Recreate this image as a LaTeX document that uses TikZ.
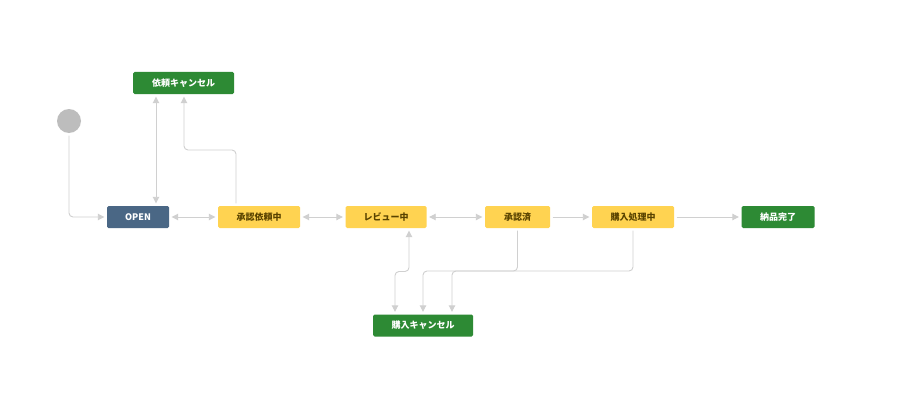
\documentclass[tikz,border=0pt]{standalone}
\usepackage{fontspec}
\newfontfamily\jp{Noto Sans CJK JP}
\usetikzlibrary{arrows.meta}
\definecolor{greenc}{HTML}{2D8A34}
\definecolor{bluec}{HTML}{4A6785}
\definecolor{yellowc}{HTML}{FFD351}
\definecolor{ytext}{HTML}{594300}
\definecolor{linec}{HTML}{D0D0D0}
\definecolor{circc}{HTML}{BDBDBD}
\tikzset{
  box/.style={rectangle, rounded corners=1.5pt, minimum height=22pt, inner sep=0pt,
    font=\jp\bfseries\fontsize{9}{11}\selectfont},
  greenbox/.style={box, fill=greenc, text=white},
  bluebox/.style={box, fill=bluec, text=white},
  yellowbox/.style={box, fill=yellowc, text=ytext},
  conn/.style={draw=linec, line width=0.9pt, rounded corners=4pt, shorten >=2.5pt, shorten <=2.5pt},
  tip/.tip={Triangle[length=6.5pt,width=6.5pt]}
}
\begin{document}
\begin{tikzpicture}[x=1pt,y=-1pt]
\useasboundingbox[fill=white] (0,0) rectangle (910,404);
\node[circle, fill=circc, minimum size=24pt, inner sep=0pt] (start) at (69,121) {};
\node[greenbox, minimum width=101pt] (cancel1) at (183.5,83) {依頼キャンセル};
\node[bluebox, minimum width=62pt] (open) at (138,217) {OPEN};
\node[yellowbox, minimum width=82pt] (req) at (259,217) {承認依頼中};
\node[yellowbox, minimum width=81pt] (rev) at (386,217) {レビュー中};
\node[yellowbox, minimum width=65pt] (appr) at (517.5,217) {承認済};
\node[yellowbox, minimum width=82pt] (proc) at (633,217) {購入処理中};
\node[greenbox, minimum width=73pt] (done) at (778,217) {納品完了};
\node[greenbox, minimum width=100pt] (cancel2) at (423,325.5) {購入キャンセル};

\draw[conn,-tip] (start) |- (open);
\draw[conn,tip-tip] ([xshift=18pt]open.north) -- ([xshift=18pt]open.north |- cancel1.south);
\draw[conn,-tip] ([xshift=-23pt]req.north) -- ([xshift=-23pt]req.north |- 0,150) -- ([xshift=0.5pt]cancel1.south |- 0,150) -- ([xshift=0.5pt]cancel1.south);
\draw[conn,tip-tip] (open) -- (req);
\draw[conn,tip-tip] (req) -- (rev);
\draw[conn,tip-tip] (rev) -- (appr);
\draw[conn,-tip] (appr) -- (proc);
\draw[conn,-tip] (proc) -- (done);
\draw[conn,tip-tip] ([xshift=23pt]rev.south) -- ([xshift=23pt]rev.south |- 0,271.5) -- ([xshift=-28pt]cancel2.north |- 0,271.5) -- ([xshift=-28pt]cancel2.north);
\draw[conn,-tip] (appr.south) -- (appr.south |- 0,271) -- (cancel2.north |- 0,271) -- (cancel2.north);
\draw[conn,-tip] (proc.south) -- (proc.south |- 0,271) -- ([xshift=29pt]cancel2.north |- 0,271) -- ([xshift=29pt]cancel2.north);
\end{tikzpicture}
\end{document}
